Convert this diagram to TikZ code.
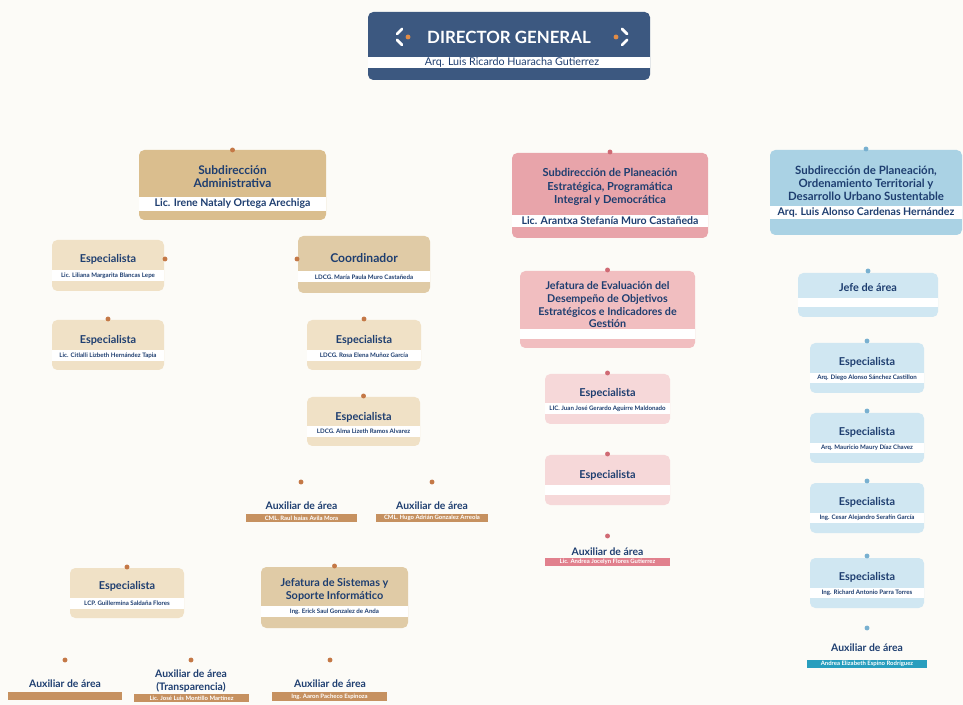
\documentclass[tikz,border=0pt]{standalone}
\usepackage{fontspec}
\setmainfont{Lato}
\usepackage{tikz}
\definecolor{paper}{RGB}{252,251,247}
\definecolor{navy}{RGB}{30,62,112}
\definecolor{dgfill}{RGB}{60,88,128}
\definecolor{dgbead}{RGB}{226,140,70}
\definecolor{tanA}{RGB}{218,190,142}
\definecolor{tanB}{RGB}{224,203,166}
\definecolor{tanC}{RGB}{240,225,198}
\definecolor{tanD}{RGB}{198,145,96}
\definecolor{tanbead}{RGB}{196,120,70}
\definecolor{pinkA}{RGB}{232,164,170}
\definecolor{pinkB}{RGB}{241,190,192}
\definecolor{pinkC}{RGB}{246,216,217}
\definecolor{pinkD}{RGB}{225,128,141}
\definecolor{pinkbead}{RGB}{208,106,116}
\definecolor{blueA}{RGB}{170,210,228}
\definecolor{blueB}{RGB}{208,231,242}
\definecolor{blueD}{RGB}{40,158,190}
\definecolor{bluebead}{RGB}{120,176,208}
\tikzset{
  every node/.style={inner sep=0pt,text=navy},
  hd/.style={text=white,font=\bfseries\fontsize{9.6}{11}\selectfont},
  hdwho/.style={font=\fontsize{6.1}{7}\selectfont},
  sub/.style={align=center,font=\bfseries\fontsize{6.2}{7.4}\selectfont},
  subwho/.style={font=\bfseries\fontsize{6}{7}\selectfont},
  ttl/.style={align=center,font=\bfseries\fontsize{6.2}{7.4}\selectfont},
  who/.style={font=\bfseries\fontsize{3.5}{4}\selectfont},
  auxttl/.style={align=center,font=\bfseries\fontsize{5.9}{7}\selectfont},
  auxwho/.style={text=white,font=\bfseries\fontsize{3.4}{4}\selectfont}
}
% card: colour, left, top, right, band top, band bottom, bottom
\newcommand{\card}[7]{%
  \fill [#1,rounded corners=3pt] (#2,#3) rectangle (#4,#7);
  \fill [white] (#2,#5) rectangle (#4,#6);}
\def\bead(#1,#2)#3{\fill [#3] (#1,#2) circle [radius=1.4pt];}
\def\strip(#1,#2)(#3,#4)#5{\fill [#5] (#1,#2) rectangle (#3,#4);}

\begin{document}
\begin{tikzpicture}[x=0.02cm,y=-0.02cm]
\fill [paper] (0,0) rectangle (963,705);
\useasboundingbox (0,0) rectangle (963,705);
% director general
\card{dgfill}{368}{12}{650}{57}{68}{80}
\node [hd] (dg) at (509,37) {DIRECTOR GENERAL};
\node [hdwho] (dg-who) at (512,62.5) {Arq. Luis Ricardo Huaracha Gutierrez};
\draw [white,line width=1.6pt,line cap=round] (402,29) -- (397,34) (397,40) -- (402,45);
\draw [white,line width=1.6pt,line cap=round] (622,29) -- (627,34) (627,40) -- (622,45);
\bead(408,37){dgbead} \bead(616,37){dgbead}

% subdireccion administrativa
\card{tanA}{139}{150}{326}{197}{211}{220}
\node [sub,font=\bfseries\fontsize{6.8}{7.6}\selectfont] (sa) at (232.5,176.5) {Subdirección\\Administrativa};
\node [subwho] (sa-who) at (232.5,204) {Lic. Irene Nataly Ortega Arechiga};
\bead(232.5,150){tanbead}
\card{tanC}{52}{240}{164}{270}{281}{291}
\node [ttl] (sa-e1) at (108,259) {Especialista};
\node [who] (sa-e1-who) at (108,276) {Lic. Liliana Margarita Blancas Lepe};
\bead(165,259){tanbead}
\card{tanB}{298}{236}{430}{271}{282}{293}
\node [ttl,font=\bfseries\fontsize{6.9}{8}\selectfont] (co) at (364,258) {Coordinador};
\node [who] (co-who) at (364,277) {LDCG. María Paula Muro Castañeda};
\bead(297,259){tanbead}
\card{tanC}{52}{320}{164}{350}{361}{370}
\node [ttl] (sa-e2) at (108,340) {Especialista};
\node [who] (sa-e2-who) at (108,355.5) {Lic. Citlalli Lizbeth Hernández Tapia};
\bead(108,319){tanbead}
\card{tanC}{307}{320}{421}{350}{361}{370}
\node [ttl] (co-e1) at (364,340) {Especialista};
\node [who] (co-e1-who) at (364,355.5) {LDCG. Rosa Elena Muñoz García};
\bead(364,319){tanbead}
\card{tanC}{307}{397}{420}{426}{437}{446}
\node [ttl] (co-e2) at (363.5,417) {Especialista};
\node [who] (co-e2-who) at (363.5,431.5) {LDCG. Alma Lizeth Ramos Alvarez};
\bead(363.5,396){tanbead}
\bead(301,482){tanbead}
\node [auxttl] (co-a1) at (301.5,506) {Auxiliar de área};
\strip(246,514)(357,522){tanD}
\node [auxwho] (co-a1-who) at (301.5,518) {CML. Raul Isaias Avila Mora};
\bead(432,482){tanbead}
\node [auxttl] (co-a2) at (432,506) {Auxiliar de área};
\strip(376,514)(488,522){tanD}
\node [auxwho] (co-a2-who) at (432,518) {CML. Hugo Adrián Gonzalez Arreola};
\card{tanC}{70}{568}{184}{598}{609}{618}
\node [ttl] (sa-e3) at (127,586) {Especialista};
\node [who] (sa-e3-who) at (127,603.5) {LCP. Guillermina Saldaña Flores};
\bead(127,567){tanbead}
\card{tanB}{261}{567}{408}{606}{617}{628}
\node [ttl] (js) at (334.5,589.5) {Jefatura de Sistemas y\\Soporte Informático};
\node [who] (js-who) at (334.5,611.5) {Ing. Erick Saul Gonzalez de Anda};
\bead(334.5,566){tanbead}
\bead(65,660){tanbead}
\node [auxttl] (sa-a1) at (65,684) {Auxiliar de área};
\strip(8,692)(122,700){tanD}
\bead(191,660){tanbead}
\node [auxttl] (sa-a2) at (191,681) {Auxiliar de área\\(Transparencia)};
\strip(134,694)(249,702){tanD}
\node [auxwho] (sa-a2-who) at (191.5,698) {Lic. José Luis Montillo Martínez};
\bead(330,660){tanbead}
\node [auxttl] (js-a1) at (330,684) {Auxiliar de área};
\strip(272,692)(387,701){tanD}
\node [auxwho] (js-a1-who) at (329.5,696.5) {Ing. Aaron Pacheco Espinoza};

% subdireccion de planeacion estrategica
\card{pinkA}{512}{153}{708}{215}{227}{238}
\node [sub,font=\bfseries\fontsize{6.3}{7.9}\selectfont] (sp) at (610,187) {Subdirección de Planeación\\Estratégica, Programática\\Integral y Democrática};
\node [subwho] (sp-who) at (610,221) {Lic. Arantxa Stefanía Muro Castañeda};
\bead(610,152){pinkbead}
\card{pinkB}{520}{271}{695}{329}{339}{348}
\node [sub,font=\bfseries\fontsize{6.1}{7.2}\selectfont] (je) at (607.5,305) {Jefatura de Evaluación del\\Desempeño de Objetivos\\Estratégicos e Indicadores de\\Gestión};
\bead(607.5,270){pinkbead}
\card{pinkC}{545}{374}{670}{403}{414}{424}
\node [ttl] (je-e1) at (607.5,393) {Especialista};
\node [who] (je-e1-who) at (607.5,408.5) {LIC. Juan José Gerardo Aguirre Maldonado};
\bead(607.5,373){pinkbead}
\card{pinkC}{545}{455}{670}{485}{495}{505}
\node [ttl] (je-e2) at (607.5,475) {Especialista};
\bead(607.5,454){pinkbead}
\bead(607.5,536){pinkbead}
\node [auxttl] (je-a1) at (607.5,552) {Auxiliar de área};
\strip(545,558)(670,566){pinkD}
\node [auxwho] (je-a1-who) at (607.5,562) {Lic. Andrea Jocelyn Flores Gutierrez};

% subdireccion de ordenamiento territorial
\card{blueA}{770}{150}{962}{206}{219}{235}
\node [sub,font=\bfseries\fontsize{6.5}{7.4}\selectfont] (so) at (866,183) {Subdirección de Planeación,\\Ordenamiento Territorial y\\Desarrollo Urbano Sustentable};
\node [subwho] (so-who) at (866,212.5) {Arq. Luis Alonso Cardenas Hernández};
\bead(866,149){bluebead}
\card{blueB}{798}{273}{938}{298}{307}{317}
\node [ttl] (ja) at (868,287) {Jefe de área};
\bead(868,271){bluebead}
\foreach \y/\n/\who in {343/1/Arq. Diego Alonso Sánchez Castillon,
    413/2/Arq. Mauricio Maury Díaz Chavez,
    483/3/Ing. Cesar Alejandro Serafín García,
    558/4/Ing. Richard Antonio Parra Torres} {
  \card{blueB}{810}{\y}{924}{\y+30}{\y+40}{\y+50}
  \node [ttl] (ja-e\n) at (867,\y+19) {Especialista};
  \node [who] (ja-e\n-who) at (867,\y+35) {\who};
  \bead(867,\y-2){bluebead}
}
\bead(867,628){bluebead}
\node [auxttl] (ja-a1) at (867,648) {Auxiliar de área};
\strip(807,660)(927,668){blueD}
\node [auxwho] (ja-a1-who) at (867,664) {Andrea Elizabeth Espino Rodríguez};
\end{tikzpicture}
\end{document}
